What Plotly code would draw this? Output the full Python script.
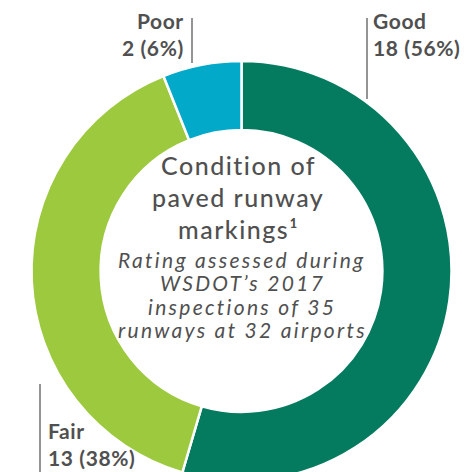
"""Donut chart: condition of paved runway markings."""

import plotly.graph_objects as go

# ---------------------------------------------------------------------------
# Data
# ---------------------------------------------------------------------------

CONDITIONS = ["Good", "Fair", "Poor"]
COUNTS = [18, 13, 2]
PCT_LABELS = ["56%", "38%", "6%"]

TITLE_LINES = ["Condition of", "paved runway", "markings¹"]
SUBTITLE_LINES = ["Rating assessed during", "WSDOT’s 2017",
                  "inspections of 35", "runways at 32 airports"]

GOOD_GREEN = "#047B5F"
FAIR_GREEN = "#9CC93D"
POOR_BLUE = "#02A9C8"
TEXT_COLOR = "#505050"
LINE_COLOR = "#707070"

W, H = 476, 484   # a bit taller than the window; the bottom is cropped


def px_x(x):
    return x / W


def px_y(y):
    return 1 - y / H


# ring: centre (241.5, 271), outer radius 210 px
CX, CY, R = 241.5, 271, 210

fig = go.Figure(go.Pie(
    labels=CONDITIONS,
    values=COUNTS,
    hole=0.671,
    sort=False,
    direction="clockwise",
    rotation=0,
    marker=dict(colors=[GOOD_GREEN, FAIR_GREEN, POOR_BLUE],
                line=dict(color="white", width=2.5)),
    textinfo="none",
    hoverinfo="label+value",
    domain=dict(x=[px_x(CX - R), px_x(CX + R)], y=[px_y(CY + R), px_y(CY - R)]),
    showlegend=False,
))

# leader lines
for x0, y0, y1 in [(192, 18, 63), (367, 18, 99), (40, 384, 484)]:
    fig.add_shape(type="line", xref="paper", yref="paper",
                  x0=px_x(x0), x1=px_x(x0), y0=px_y(y0), y1=px_y(y1),
                  line=dict(color=LINE_COLOR, width=1.5))


def add_text(text, x, y, anchor, size, spacing, bold=False, italic=False, weight=None):
    if bold:
        text = f"<b>{text}</b>"
    if italic:
        text = f"<i>{text}</i>"
    text = f'<span style="letter-spacing:{spacing}px">{text}</span>'
    font = dict(family="Lato", size=size, color=TEXT_COLOR)
    if weight:
        font["weight"] = weight
    fig.add_annotation(
        xref="paper", yref="paper", x=px_x(x), y=px_y(y),
        xanchor=anchor, yanchor="middle", align=anchor if anchor != "center" else "center",
        showarrow=False, text=text, font=font,
    )


# (x, y of block centre, anchor)
label_pos = {
    "Good": (371, 34, "left"),
    "Poor": (186, 34, "right"),
    "Fair": (46, 444, "left"),
}
for name, count, pct in zip(CONDITIONS, COUNTS, PCT_LABELS):
    x, y, anchor = label_pos[name]
    add_text(f"{name}<br>{count} ({pct})", x, y, anchor, 21, 0.6, bold=True)

for i, line in enumerate(TITLE_LINES):
    add_text(line, 238, 165 + 32 * i, "center", 25, 1.5, weight=500)

for i, line in enumerate(SUBTITLE_LINES):
    add_text(line, 242, 259 + 23.5 * i, "center", 21, 2.3, italic=True)

fig.update_layout(
    width=W, height=H,
    margin=dict(l=0, r=0, t=0, b=0),
    paper_bgcolor="white",
    plot_bgcolor="white",
)

fig.write_html(
    "out.html",
    config={"displayModeBar": False},
    post_script="document.body.style.margin='0';document.body.style.overflow='hidden';",
)
